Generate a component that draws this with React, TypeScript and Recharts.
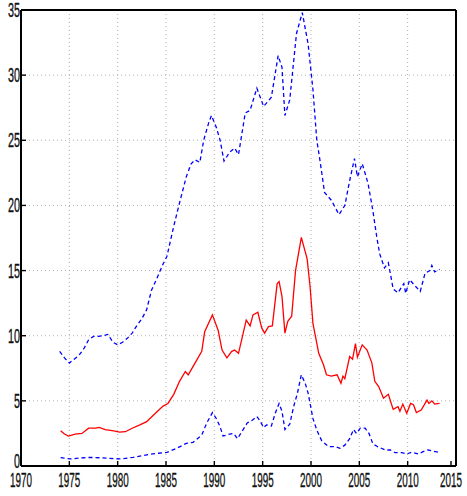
import React from "react"
import { LineChart, Line, XAxis, YAxis, CartesianGrid } from "recharts"

const FONT = '"Liberation Sans", Arial, sans-serif'

const xTicks = [1970, 1975, 1980, 1985, 1990, 1995, 2000, 2005, 2010, 2015]
const yTicks = [0, 5, 10, 15, 20, 25, 30, 35]

// upper band (blue dashed)
const upperYears = [
    1974.0, 1974.5, 1975.0, 1975.5, 1976.0, 1976.5, 1977.0, 1977.5, 1978.0, 1978.5,
    1979.0, 1979.5, 1980.0, 1980.5, 1981.0, 1981.5, 1982.0, 1982.5, 1983.0, 1983.5,
    1984.0, 1984.4, 1984.7, 1985.1, 1985.8, 1986.4, 1987.1, 1987.6, 1988.0, 1988.5,
    1988.9, 1989.4, 1989.7, 1990.2, 1990.6, 1991.0, 1991.6, 1992.1, 1992.5, 1993.2,
    1993.7, 1994.4, 1995.1, 1995.9, 1996.6, 1997.0, 1997.3, 1997.8, 1998.5, 1999.1,
    1999.7, 2000.2, 2000.6, 2000.9, 2001.4, 2002.1, 2002.9, 2003.5, 2004.0, 2004.5,
    2004.8, 2005.3, 2005.9, 2006.4, 2006.8, 2007.1, 2007.6, 2008.0, 2008.5, 2009.0,
    2009.6, 2009.8, 2010.2, 2010.8, 2011.3, 2011.8, 2012.3, 2012.5, 2012.8, 2013.3,
]
const upperValues = [
    8.8, 8.3, 7.9, 8.2, 8.5, 9.0, 9.7, 9.95, 9.95, 10.0,
    10.1, 9.5, 9.3, 9.5, 9.8, 10.2, 10.8, 11.3, 12.0, 13.5,
    14.3, 15.0, 15.5, 16.1, 18.4, 20.2, 22.2, 23.2, 23.5, 23.3,
    25.0, 26.3, 26.9, 26.0, 25.0, 23.4, 24.1, 24.4, 23.9, 27.1,
    27.3, 29.0, 27.6, 28.3, 31.5, 30.6, 26.9, 28.1, 33.2, 34.8,
    32.4, 28.9, 25.0, 23.6, 21.0, 20.4, 19.3, 20.0, 21.9, 23.6,
    22.2, 23.2, 21.7, 19.6, 17.6, 16.3, 15.2, 15.6, 13.6, 13.3,
    14.0, 13.25, 14.3, 13.8, 13.4, 14.8, 15.0, 15.4, 14.9, 15.1,
]

// central estimate (red solid)
const midYears = [
    1974.1, 1974.5, 1974.9, 1975.6, 1976.3, 1977.0, 1977.7, 1978.1, 1978.7, 1979.6,
    1980.2, 1980.8, 1981.5, 1982.3, 1983.0, 1983.9, 1984.7, 1985.2, 1985.8, 1986.4,
    1987.0, 1987.3, 1988.0, 1988.7, 1989.0, 1989.8, 1990.4, 1990.8, 1991.3, 1991.8,
    1992.1, 1992.5, 1993.3, 1993.7, 1994.0, 1994.5, 1994.9, 1995.2, 1995.6, 1996.0,
    1996.5, 1996.7, 1997.0, 1997.3, 1997.6, 1998.0, 1998.4, 1999.0, 1999.6, 1999.9,
    2000.2, 2000.8, 2001.3, 2001.6, 2002.1, 2002.7, 2003.1, 2003.3, 2003.5, 2004.0,
    2004.3, 2004.6, 2004.8, 2005.3, 2005.8, 2006.3, 2006.6, 2007.0, 2007.5, 2008.0,
    2008.5, 2009.0, 2009.2, 2009.5, 2009.9, 2010.3, 2010.6, 2010.9, 2011.4, 2012.0,
    2012.2, 2012.5, 2012.8, 2013.3,
]
const midValues = [
    2.71, 2.45, 2.3, 2.45, 2.5, 2.9, 2.9, 2.97, 2.8, 2.7,
    2.6, 2.63, 2.9, 3.15, 3.4, 4.05, 4.6, 4.8, 5.5, 6.5,
    7.25, 7.0, 7.9, 8.8, 10.3, 11.6, 10.4, 8.9, 8.3, 8.8,
    8.9, 8.65, 11.2, 10.75, 11.6, 11.8, 10.6, 10.2, 10.7, 10.75,
    14.0, 14.15, 13.0, 10.2, 11.1, 11.5, 15.0, 17.55, 15.9, 13.8,
    10.95, 8.65, 7.75, 7.0, 6.9, 7.0, 6.35, 6.9, 6.7, 8.4,
    8.2, 9.4, 8.35, 9.3, 8.9, 7.9, 6.5, 6.1, 5.2, 5.5,
    4.35, 4.55, 4.2, 4.75, 4.05, 4.8, 4.7, 4.1, 4.3, 5.06,
    4.8, 5.0, 4.75, 4.8,
]

// lower band (blue dashed)
const lowerYears = [
    1974.1, 1975.1, 1976.0, 1977.1, 1978.2, 1979.2, 1980.2, 1981.6, 1982.5, 1983.3,
    1984.2, 1985.1, 1986.1, 1987.1, 1987.8, 1988.7, 1989.2, 1989.8, 1990.2, 1990.6,
    1990.9, 1991.6, 1992.0, 1992.4, 1993.4, 1993.9, 1994.4, 1994.7, 1995.1, 1995.4,
    1995.9, 1996.3, 1996.7, 1997.0, 1997.3, 1997.8, 1998.2, 1998.6, 1999.0, 1999.4,
    1999.7, 2000.2, 2000.6, 2001.1, 2001.8, 2002.5, 2003.0, 2003.5, 2004.0, 2004.4,
    2004.7, 2005.1, 2005.6, 2006.0, 2006.4, 2006.9, 2007.7, 2008.2, 2008.7, 2009.4,
    2009.9, 2010.4, 2011.1, 2011.6, 2012.1, 2012.6, 2013.2,
]
const lowerValues = [
    0.64, 0.54, 0.6, 0.66, 0.63, 0.59, 0.54, 0.66, 0.78, 0.9,
    0.98, 1.05, 1.35, 1.74, 1.82, 2.38, 3.28, 4.1, 3.65, 3.0,
    2.3, 2.45, 2.5, 2.1, 3.3, 3.5, 3.8, 3.5, 2.95, 3.15,
    3.07, 4.05, 4.8, 4.2, 2.8, 3.2, 4.55, 5.6, 7.0, 6.35,
    5.6, 3.65, 2.76, 1.95, 1.49, 1.49, 1.36, 1.6, 2.1, 2.8,
    2.5, 2.9, 2.9, 2.5, 1.7, 1.48, 1.23, 1.23, 1.02, 1.02,
    0.92, 1.05, 0.92, 1.1, 1.23, 1.15, 1.05,
]

const toPoints = (years: number[], values: number[]) =>
    years.map((year, i) => ({ year, value: values[i] }))

const upperData = toPoints(upperYears, upperValues)
const midData = toPoints(midYears, midValues)
const lowerData = toPoints(lowerYears, lowerValues)

// narrow digits: squeeze each label to ~5.5px per character
const DIGIT_W = 5.5

// matlab-style inward ticks on all four sides
const BottomTick = ({ x, y, payload }: any) => {
    const label = String(payload.value)
    return (
        <g>
            <line x1={x} x2={x} y1={y} y2={y - 5} stroke="#000" strokeWidth={1.4} />
            <text x={x} y={y + 21} textAnchor="middle" fontSize={20} fill="#111" stroke="#111"
                strokeWidth={0.35} fontFamily={FONT}
                textLength={label.length * DIGIT_W} lengthAdjust="spacingAndGlyphs">
                {label}
            </text>
        </g>
    )
}

const LeftTick = ({ x, y, payload }: any) => {
    const label = String(payload.value)
    // the zero label sits a little higher so it clears the year labels
    const baseline = payload.value === 0 ? y + 2 : y + 7
    return (
        <g>
            <line x1={x} x2={x + 5} y1={y} y2={y} stroke="#000" strokeWidth={1.4} />
            <text x={x - 1} y={baseline} textAnchor="end" fontSize={20} fill="#111" stroke="#111"
                strokeWidth={0.35} fontFamily={FONT}
                textLength={label.length * (DIGIT_W + 0.5)} lengthAdjust="spacingAndGlyphs">
                {label}
            </text>
        </g>
    )
}

const TopTick = ({ x, y }: any) => (
    <line x1={x} x2={x} y1={y} y2={y + 5} stroke="#000" strokeWidth={1.4} />
)

const RightTick = ({ x, y }: any) => (
    <line x1={x} x2={x - 5} y1={y} y2={y} stroke="#000" strokeWidth={1.4} />
)

const frame = { stroke: "#000", strokeWidth: 2 }

export default function App() {
    return (
        <div style={{ position: "absolute", left: 0, top: 0, width: 467, height: 496, background: "#fff" }}>
            <LineChart width={467} height={496} margin={{ top: 9, right: 10, bottom: 0, left: 0 }}>
                <CartesianGrid stroke="#b0b0b0" strokeDasharray="1 3" />
                <XAxis
                    dataKey="year"
                    type="number"
                    domain={[1970, 2015]}
                    ticks={xTicks}
                    height={30}
                    tickSize={0}
                    tickMargin={0}
                    tickLine={false}
                    axisLine={frame}
                    tick={<BottomTick />}
                />
                <XAxis
                    xAxisId="top"
                    orientation="top"
                    dataKey="year"
                    type="number"
                    domain={[1970, 2015]}
                    ticks={xTicks}
                    height={1}
                    tickSize={0}
                    tickMargin={0}
                    tickLine={false}
                    axisLine={frame}
                    tick={<TopTick />}
                />
                <YAxis
                    type="number"
                    domain={[0, 35]}
                    ticks={yTicks}
                    width={21}
                    tickSize={0}
                    tickMargin={0}
                    tickLine={false}
                    axisLine={frame}
                    tick={<LeftTick />}
                />
                <YAxis
                    yAxisId="right"
                    orientation="right"
                    type="number"
                    domain={[0, 35]}
                    ticks={yTicks}
                    width={1}
                    tickSize={0}
                    tickMargin={0}
                    tickLine={false}
                    axisLine={frame}
                    tick={<RightTick />}
                />
                <Line data={upperData} dataKey="value" type="linear" stroke="#0000ff" strokeWidth={1.3}
                    strokeDasharray="4 3" dot={false} isAnimationActive={false} />
                <Line data={midData} dataKey="value" type="linear" stroke="#ff0000" strokeWidth={1.3}
                    dot={false} isAnimationActive={false} />
                <Line data={lowerData} dataKey="value" type="linear" stroke="#0000ff" strokeWidth={1.3}
                    strokeDasharray="4 3" dot={false} isAnimationActive={false} />
            </LineChart>
        </div>
    )
}
